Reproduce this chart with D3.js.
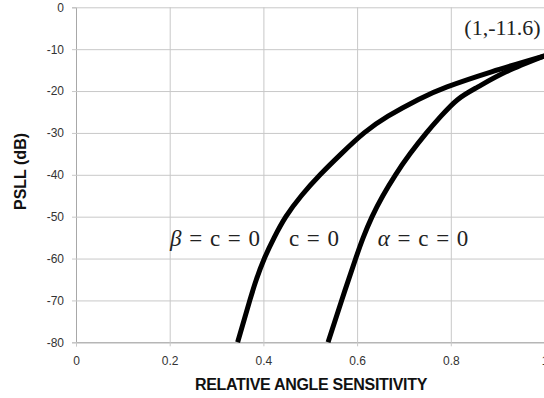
<!DOCTYPE html>
<html>
<head>
<meta charset="utf-8">
<script src="https://cdn.jsdelivr.net/npm/d3@7"></script>
<style>
  html, body { margin: 0; padding: 0; background: #fff; }
  svg { display: block; }
</style>
</head>
<body>
<svg id="chart" width="544" height="398"></svg>
<script>
// Relative angle sensitivity vs. peak sidelobe level (dB)
const xTicks = [0, 0.2, 0.4, 0.6, 0.8, 1];
const yTicks = [0, -10, -20, -30, -40, -50, -60, -70, -80];

// β = c = 0 curve: sensitivity at each PSLL (dB)
const betaSens = [0.345, 0.371, 0.385, 0.402, 0.423, 0.448, 0.481, 0.521, 0.566, 0.615, 0.666, 0.731, 0.792, 0.887, 1.0];
const betaPsll = [-80, -70, -65, -60, -55, -50, -45, -40, -35, -30, -26, -22, -19, -15.4, -11.6];

// α = c = 0 curve
const alphaSens = [0.538, 0.567, 0.597, 0.613, 0.632, 0.655, 0.682, 0.713, 0.748, 0.779, 0.815, 0.858, 0.918, 1.0];
const alphaPsll = [-80, -70, -60, -55, -50, -45, -40, -35, -30, -26, -22, -19, -15.4, -11.6];

const endPoint = [1, -11.6];
const curveLabels = ["β = c = 0", "c = 0", "α = c = 0"];

const svg = d3.select("#chart");
const x = d3.scaleLinear().domain([0, 1]).range([76, 544.5]);
const y = d3.scaleLinear().domain([-80, 0]).range([342.3, 7.3]);

const gridColor = "#c8c8c8";
const sans = "Liberation Sans, Arial, sans-serif";

// horizontal grid + left ticks
const yAxis = d3.axisLeft(y).tickValues(yTicks).tickSize(4).tickPadding(8).tickFormat(d => String(d));
const gy = svg.append("g").attr("transform", `translate(${x(0)},0)`).call(yAxis);
gy.select(".domain").attr("stroke", "#a8a8a8");
gy.selectAll(".tick line").attr("stroke", gridColor);
gy.selectAll(".tick").append("line")
  .attr("x1", 0).attr("x2", x(1) - x(0))
  .attr("stroke", gridColor).attr("stroke-width", 1);
gy.selectAll(".tick text")
  .attr("fill", "#333").attr("font-family", sans).attr("font-size", 12);

// vertical grid + bottom ticks
const xAxis = d3.axisBottom(x).tickValues(xTicks).tickSize(4).tickPadding(10)
  .tickFormat(d => (d === 0 || d === 1) ? String(d) : d.toFixed(1));
const gx = svg.append("g").attr("transform", `translate(0,${y(-80)})`).call(xAxis);
gx.select(".domain").attr("stroke", "#a8a8a8");
gx.selectAll(".tick line").attr("stroke", gridColor);
gx.selectAll(".tick").filter(d => d > 0).append("line")
  .attr("y1", 0).attr("y2", y(0) - y(-80))
  .attr("stroke", gridColor).attr("stroke-width", 1);
gx.selectAll(".tick text")
  .attr("fill", "#333").attr("font-family", sans).attr("font-size", 12);

// axis titles
svg.append("text")
  .attr("x", 311).attr("y", 390)
  .attr("text-anchor", "middle")
  .attr("font-family", sans)
  .attr("font-weight", "bold").attr("font-size", 16)
  .attr("letter-spacing", -0.3)
  .attr("fill", "#111")
  .text("RELATIVE ANGLE SENSITIVITY");

svg.append("text")
  .attr("transform", "translate(26,171.5) rotate(-90)")
  .attr("text-anchor", "middle")
  .attr("font-family", sans)
  .attr("font-weight", "bold").attr("font-size", 16)
  .attr("fill", "#111")
  .text("PSLL (dB)");

// curves
const line = d3.line()
  .x(d => x(d[0]))
  .y(d => y(d[1]))
  .curve(d3.curveNatural);

const series = [
  d3.zip(betaSens, betaPsll),
  d3.zip(alphaSens, alphaPsll)
];

svg.append("g").selectAll("path").data(series).join("path")
  .attr("d", line)
  .attr("fill", "none")
  .attr("stroke", "#000")
  .attr("stroke-width", 5)
  .attr("stroke-linecap", "butt")
  .attr("stroke-linejoin", "round");

// annotations
const serif = "Liberation Serif, Times New Roman, serif";
svg.append("text")
  .attr("x", x(endPoint[0]) - 4).attr("y", y(endPoint[1]) - 21)
  .attr("text-anchor", "end")
  .attr("font-family", serif).attr("font-size", 22).attr("fill", "#222")
  .text(`(${endPoint[0]},${endPoint[1]})`);

const labelPos = [215, 314, 423];
function mathLabel(str, cx) {
  const t = svg.append("text")
    .attr("x", cx).attr("y", 246)
    .attr("text-anchor", "middle")
    .attr("font-family", serif).attr("font-size", 23).attr("fill", "#222")
    .attr("word-spacing", 2);
  const first = str[0];
  if (first === "β" || first === "α") {
    t.append("tspan").attr("font-style", "italic").text(first);
    t.append("tspan").text(str.slice(1));
  } else {
    t.text(str);
  }
}
curveLabels.forEach((s, i) => mathLabel(s, labelPos[i]));
</script>
</body>
</html>
